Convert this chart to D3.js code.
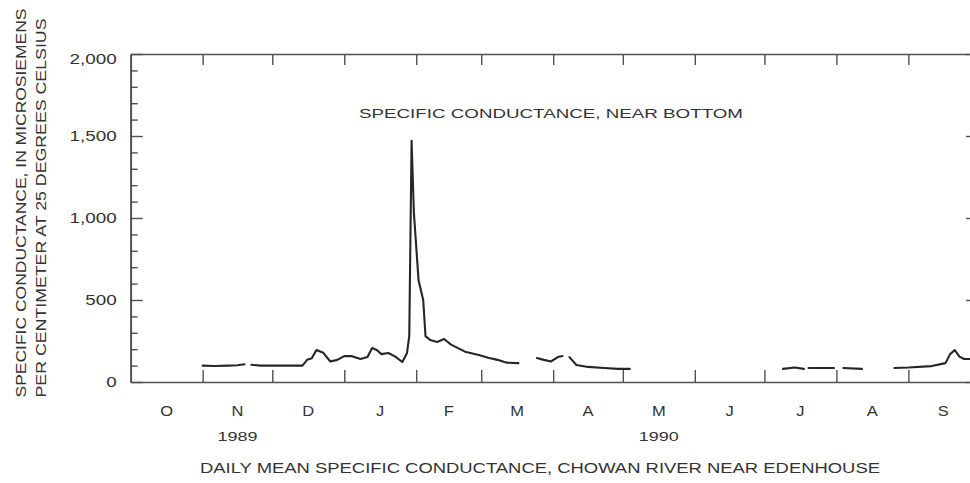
<!DOCTYPE html>
<html>
<head>
<meta charset="utf-8">
<script src="https://cdn.jsdelivr.net/npm/d3@7/dist/d3.min.js"></script>
<style>
  html, body { margin: 0; padding: 0; background: #fff; }
  svg { display: block; }
  text { font-family: "Liberation Sans", Arial, Helvetica, sans-serif; fill: #333; }
</style>
</head>
<body>
<svg id="chart" width="970" height="483"></svg>
<script>
// ---------------- DATA ----------------
// Daily mean specific conductance (µS/cm at 25 °C); null = missing record (gap)
const dates = [
  "1989-11-01","1989-11-06","1989-11-12","1989-11-16","1989-11-19","1989-11-20","1989-11-22","1989-11-26",
  "1989-12-01","1989-12-07","1989-12-14","1989-12-16","1989-12-18","1989-12-20","1989-12-23","1989-12-26","1989-12-29",
  "1990-01-01","1990-01-04","1990-01-08","1990-01-11","1990-01-13","1990-01-15","1990-01-17","1990-01-20","1990-01-23",
  "1990-01-26","1990-01-28","1990-01-29","1990-01-30","1990-01-31",
  "1990-02-02","1990-02-04","1990-02-05","1990-02-07","1990-02-10","1990-02-13","1990-02-16","1990-02-22","1990-02-28",
  "1990-03-04","1990-03-08","1990-03-12","1990-03-17","1990-03-20","1990-03-25","1990-03-28","1990-03-31",
  "1990-04-03","1990-04-05","1990-04-06","1990-04-08","1990-04-11","1990-04-16","1990-04-23","1990-04-29",
  "1990-05-04","1990-05-10",
  "1990-07-09","1990-07-14","1990-07-18","1990-07-19","1990-07-20","1990-07-31",
  "1990-08-02","1990-08-04","1990-08-12","1990-08-20","1990-08-26",
  "1990-09-01","1990-09-11","1990-09-17","1990-09-19","1990-09-21","1990-09-23","1990-09-25","1990-09-30"
];
const conductance = [
  100, 98, 100, 102, 108, null, 105, 100,
  100, 100, 100, 135, 145, 195, 178, 125, 135,
  158, 158, 140, 152, 207, 195, 170, 177, 155,
  122, 175, 280, 1470, 1030,
  620, 500, 280, 256, 244, 262, 228, 185, 165,
  148, 135, 118, 115, null, 146, 135, 125,
  152, 158, null, 152, 104, 92, 85, 80,
  80, null,
  80, 88, 80, null, 85, 85,
  null, 85, 80, null, 85,
  88, 97, 115, 170, 195, 155, 140, 140
];

const monthLabels = ["O","N","D","J","F","M","A","M","J","J","A","S"];
const yearLabels = [{ text: "1989", month: 1 }, { text: "1990", month: 7 }];
const yTickValues = [0, 500, 1000, 1500, 2000];
const yTickLabels = ["0", "500", "1,000", "1,500", "2,000"];
const plotLabel = "SPECIFIC CONDUCTANCE, NEAR BOTTOM";
const xTitle = "DAILY MEAN SPECIFIC CONDUCTANCE, CHOWAN RIVER NEAR EDENHOUSE";
const yTitleLines = ["SPECIFIC CONDUCTANCE, IN MICROSIEMENS", "PER CENTIMETER AT 25 DEGREES CELSIUS"];

// ---------------- LAYOUT ----------------
const svg = d3.select("#chart");
const parse = d3.utcParse("%Y-%m-%d");
const startDate = parse("1989-10-01"), endDate = parse("1990-10-01");
const pL = 130.7, pR = 978, pT = 54, pB = 382;

const x = d3.scaleUtc().domain([startDate, endDate]).range([pL, pR]);
const y = d3.scaleLinear().domain([0, 2000]).range([pB, pT]);

const axisColor = "#505050";

// month boundaries
const monthStarts = d3.utcMonth.range(startDate, endDate);   // Oct 1 .. Sep 1
const innerMonthTicks = monthStarts.slice(1);                // Nov 1 .. Sep 1

const gB = svg.append("g").attr("transform", `translate(0,${pB})`)
  .call(d3.axisBottom(x).tickValues(innerMonthTicks).tickSizeInner(-12).tickSizeOuter(0).tickFormat(""));
const gT = svg.append("g").attr("transform", `translate(0,${pT})`)
  .call(d3.axisTop(x).tickValues(innerMonthTicks).tickSizeInner(-11).tickSizeOuter(0).tickFormat(""));
const minorVals = d3.range(100, 2000, 100).filter(v => v % 500 !== 0);
const gL = svg.append("g").attr("transform", `translate(${pL},0)`)
  .call(d3.axisLeft(y).tickValues(yTickValues).tickSizeInner(-12).tickSizeOuter(0).tickFormat(""));
const gLm = svg.append("g").attr("transform", `translate(${pL},0)`)
  .call(d3.axisLeft(y).tickValues(minorVals).tickSizeInner(-7).tickSizeOuter(0).tickFormat(""));
const gR = svg.append("g").attr("transform", `translate(${pR},0)`)
  .call(d3.axisRight(y).tickValues(yTickValues).tickSizeInner(-12).tickSizeOuter(0).tickFormat(""));
const gRm = svg.append("g").attr("transform", `translate(${pR},0)`)
  .call(d3.axisRight(y).tickValues(minorVals).tickSizeInner(-7).tickSizeOuter(0).tickFormat(""));

[gB, gT, gL, gLm, gR, gRm].forEach(g => {
  g.selectAll(".domain").attr("stroke", axisColor).attr("stroke-width", 1.7);
  g.selectAll(".tick line").attr("stroke", axisColor).attr("stroke-width", 1.4);
});

// y tick labels
const stretch = 1.3;
svg.append("g").selectAll("text").data(yTickValues).join("text")
  .attr("x", pL - 14)
  .attr("y", d => y(d) + (d === 2000 ? 10 : 5))
  .attr("text-anchor", "end")
  .attr("font-size", 14.5)
  .text((d, i) => yTickLabels[i])
  .each(function () {
    const w = this.getComputedTextLength();
    d3.select(this).attr("textLength", w * stretch).attr("lengthAdjust", "spacingAndGlyphs");
  });

// month labels centered in each month
svg.append("g").selectAll("text").data(monthStarts).join("text")
  .attr("x", d => (x(d) + x(d3.utcMonth.offset(d, 1))) / 2)
  .attr("y", 416)
  .attr("text-anchor", "middle")
  .attr("font-size", 15)
  .text((d, i) => monthLabels[i])
  .each(function () {
    const w = this.getComputedTextLength();
    d3.select(this).attr("textLength", w * 1.1).attr("lengthAdjust", "spacingAndGlyphs");
  });

// year labels
svg.append("g").selectAll("text").data(yearLabels).join("text")
  .attr("x", d => (x(monthStarts[d.month]) + x(d3.utcMonth.offset(monthStarts[d.month], 1))) / 2)
  .attr("y", 441)
  .attr("text-anchor", "middle")
  .attr("font-size", 13)
  .attr("textLength", 40).attr("lengthAdjust", "spacingAndGlyphs")
  .text(d => d.text);

// x title
svg.append("text")
  .attr("x", 540).attr("y", 473)
  .attr("text-anchor", "middle")
  .attr("font-size", 14)
  .attr("textLength", 680).attr("lengthAdjust", "spacingAndGlyphs")
  .text(xTitle);

// label inside plot
svg.append("text")
  .attr("x", 551).attr("y", 118)
  .attr("text-anchor", "middle")
  .attr("font-size", 13)
  .attr("textLength", 384).attr("lengthAdjust", "spacingAndGlyphs")
  .text(plotLabel);

// y title (two rotated lines)
svg.append("g").selectAll("text").data(yTitleLines).join("text")
  .attr("transform", (d, i) => `translate(${i === 0 ? 26 : 46},${i === 0 ? 203 : 208}) rotate(-90)`)
  .attr("text-anchor", "middle")
  .attr("font-size", 14.5)
  .attr("textLength", (d, i) => i === 0 ? 389 : 379)
  .attr("lengthAdjust", "spacingAndGlyphs")
  .text(d => d);

// data line
const series = dates.map((d, i) => ({ date: parse(d), value: conductance[i] }));
const line = d3.line()
  .defined(d => d.value !== null)
  .x(d => x(d.date))
  .y(d => y(d.value));

svg.append("path")
  .datum(series)
  .attr("fill", "none")
  .attr("stroke", "#262626")
  .attr("stroke-width", 2.1)
  .attr("stroke-linejoin", "round")
  .attr("stroke-linecap", "round")
  .attr("d", line);
</script>
</body>
</html>
